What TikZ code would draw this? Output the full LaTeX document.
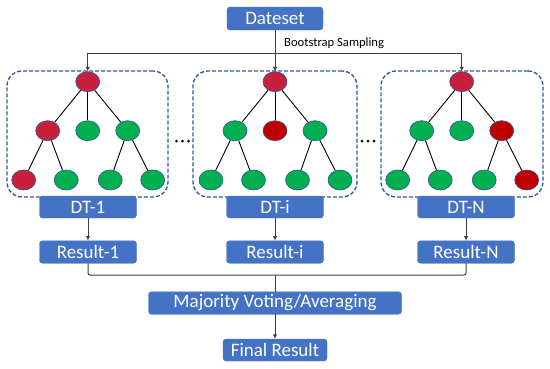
\documentclass[tikz,border=0pt]{standalone}
\usepackage{fontspec}
\setmainfont{Carlito}
\usetikzlibrary{arrows.meta,shapes.geometric}
\definecolor{boxblue}{HTML}{4472C4}
\definecolor{dashblue}{HTML}{2F5597}
\definecolor{crim}{HTML}{C8203C}
\definecolor{drk}{HTML}{C00000}
\definecolor{grn}{HTML}{00B050}
\definecolor{lineg}{HTML}{404040}
\definecolor{outl}{HTML}{2F528F}
\tikzset{
  bluebox/.style={fill=boxblue, draw=boxblue, rounded corners=3pt, text=white, inner sep=0pt,
    font=\fontsize{19}{21}\selectfont},
  dashbox/.style={draw=dashblue, line width=1.3pt, dash pattern=on 4pt off 2pt, rounded corners=15pt, inner sep=0pt},
  leaf/.style={ellipse, draw=outl, line width=0.6pt, minimum width=24pt, minimum height=20pt, inner sep=0pt},
  edge/.style={draw=black, line width=0.9pt},
  conn/.style={draw=lineg, line width=1pt, -{Latex[length=4.5pt,width=4.5pt]}},
  plainline/.style={draw=lineg, line width=1pt, rounded corners=2pt},
}
\newcommand\mytree[9]{%
  \begin{scope}[shift={(#2,0)}]
    \node[leaf,fill=crim] (#1r) at (0,81.7) {};
    \node[leaf,fill=#3] (#1a) at (-40,130.7) {};
    \node[leaf,fill=#4] (#1b) at (0,130.7) {};
    \node[leaf,fill=#5] (#1c) at (40,130.7) {};
    \node[leaf,fill=#6] (#1d) at (-64,180) {};
    \node[leaf,fill=#7] (#1e) at (-21.5,180) {};
    \node[leaf,fill=#8] (#1f) at (22.5,180) {};
    \node[leaf,fill=#9] (#1g) at (65,180) {};
  \end{scope}
  \draw[edge] (#1r) -- (#1a);
  \draw[edge] (#1r) -- (#1b);
  \draw[edge] (#1r) -- (#1c);
  \draw[edge] (#1a) -- (#1d);
  \draw[edge] (#1a) -- (#1e);
  \draw[edge] (#1c) -- (#1f);
  \draw[edge] (#1c) -- (#1g);
}
\begin{document}
\begin{tikzpicture}[x=1pt,y=-1pt]
\useasboundingbox (0,0) rectangle (550,368);
% dashed containers
\node[dashbox, minimum width=161pt, minimum height=126pt] (box1) at (87.5,134) {};
\node[dashbox, minimum width=164pt, minimum height=126pt] (box2) at (275,134) {};
\node[dashbox, minimum width=162pt, minimum height=126pt] (box3) at (462,134) {};
% trees
\mytree{l}{87.7}{crim}{grn}{grn}{crim}{grn}{grn}{grn}
\mytree{m}{275}{grn}{drk}{grn}{grn}{grn}{grn}{grn}
\mytree{n}{461.7}{grn}{grn}{drk}{grn}{grn}{grn}{drk}
% dots
\foreach \x in {176.5,182.5,188.5} \fill[black] (\x,141) circle (1.5);
\foreach \x in {362,368,374} \fill[black] (\x,141) circle (1.5);
% top
\node[bluebox, minimum width=96pt, minimum height=23pt] (ds) at (275,18.5) {Dateset};
\node[anchor=west, inner sep=0pt, font=\fontsize{12.6}{14}\selectfont] (bs) at (284,43) {Bootstrap Sampling};
\coordinate (j) at (275,53);
\draw[conn] (ds) -- (mr);
\draw[conn] (j) -| (lr);
\draw[conn] (j) -| (nr);
% DT boxes
\node[bluebox, minimum width=97pt, minimum height=22pt] (dt1) at (88,207) {DT-1};
\node[bluebox, minimum width=97pt, minimum height=22pt] (dti) at (275,207) {DT-i};
\node[bluebox, minimum width=97pt, minimum height=22pt] (dtn) at (466,207) {DT-N};
\node[bluebox, minimum width=97pt, minimum height=22.5pt] (res1) at (88,252) {Result-1};
\node[bluebox, minimum width=97pt, minimum height=22.5pt] (resi) at (275,252) {Result-i};
\node[bluebox, minimum width=97pt, minimum height=22.5pt] (resn) at (466,252) {Result-N};
\draw[conn] (dt1) -- (res1);
\draw[conn] (dti) -- (resi);
\draw[conn] (dtn) -- (resn);
% aggregation
\node[bluebox, minimum width=253pt, minimum height=22.5pt] (maj) at (275,303) {Majority Voting/Averaging};
\node[bluebox, minimum width=104pt, minimum height=22pt] (fin) at (275,350) {Final Result};
\coordinate (bj) at (275,275);
\draw[plainline] (res1.south) |- (bj) -| (resn.south);
\draw[draw=lineg, line width=1pt] (bj) -- (maj.north);
\draw[conn] (maj) -- (fin);
\end{tikzpicture}
\end{document}
